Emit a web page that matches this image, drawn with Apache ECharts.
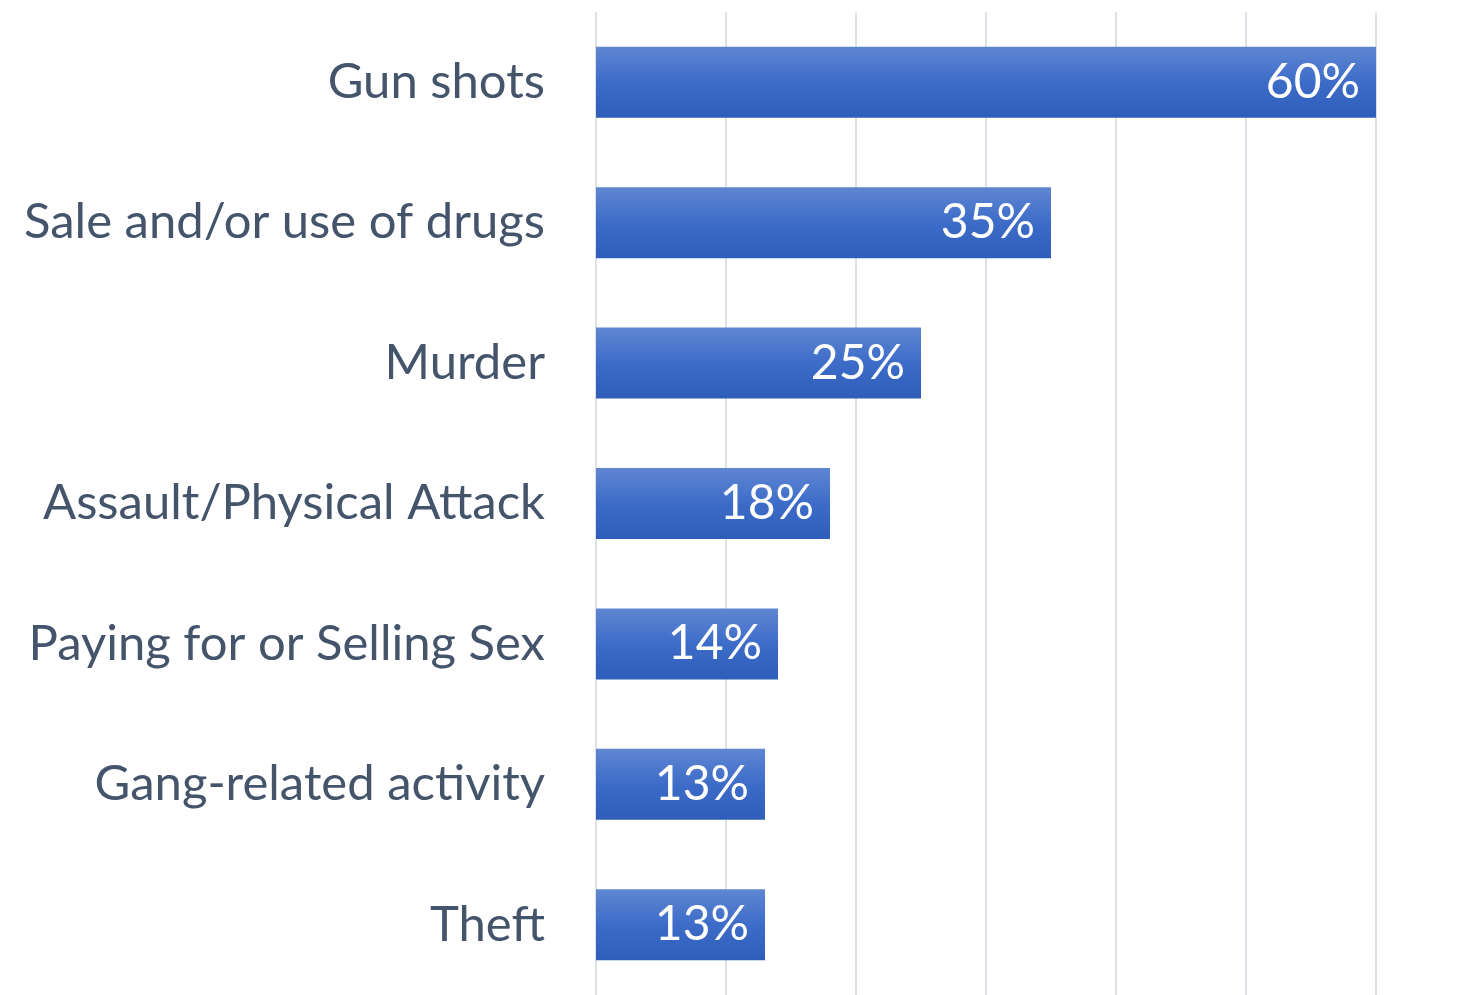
<!DOCTYPE html>
<html>
<head>
<meta charset="utf-8">
<script src="https://cdn.jsdelivr.net/npm/echarts@6/dist/echarts.min.js"></script>
<style>
  html, body { margin: 0; padding: 0; background: #ffffff; }
  #chart { width: 1483px; height: 995px; }
</style>
</head>
<body>
<div id="chart"></div>
<script>
// Categories listed bottom-to-top (ECharts category y-axis starts at the bottom)
const categories = [
  'Theft',
  'Gang-related activity',
  'Paying for or Selling Sex',
  'Assault/Physical Attack',
  'Murder',
  'Sale and/or use of drugs',
  'Gun shots'
];
// Share of respondents, in percent
const values = [13, 13, 14, 18, 25, 35, 60];

const FONT = 'Lato, "Open Sans", sans-serif';

const chart = echarts.init(document.getElementById('chart'), null, { renderer: 'canvas' });
chart.setOption({
  animation: false,
  backgroundColor: '#ffffff',
  grid: { left: 596, right: 107, top: 12, bottom: -2, containLabel: false },
  xAxis: {
    type: 'value',
    min: 0,
    max: 60,
    interval: 10,
    axisLabel: { show: false },
    axisLine: { show: false },
    axisTick: { show: false },
    splitLine: { show: true, lineStyle: { color: '#dde1e8', width: 2 } }
  },
  yAxis: {
    type: 'category',
    data: categories,
    axisLine: { show: false },
    axisTick: { show: false },
    axisLabel: {
      margin: 51,
      color: '#44546a',
      fontFamily: FONT,
      fontSize: 49
    }
  },
  series: [{
    type: 'bar',
    data: values,
    barWidth: 71,
    itemStyle: {
      color: new echarts.graphic.LinearGradient(0, 0, 0, 1, [
        { offset: 0, color: '#5f86d2' },
        { offset: 0.5, color: '#3d6cc8' },
        { offset: 1, color: '#2e5eb9' }
      ])
    },
    label: {
      show: true,
      position: 'insideRight',
      distance: 16,
      color: '#ffffff',
      fontFamily: FONT,
      fontSize: 48,
      formatter: p => p.value + '%'
    }
  }]
});
</script>
</body>
</html>
